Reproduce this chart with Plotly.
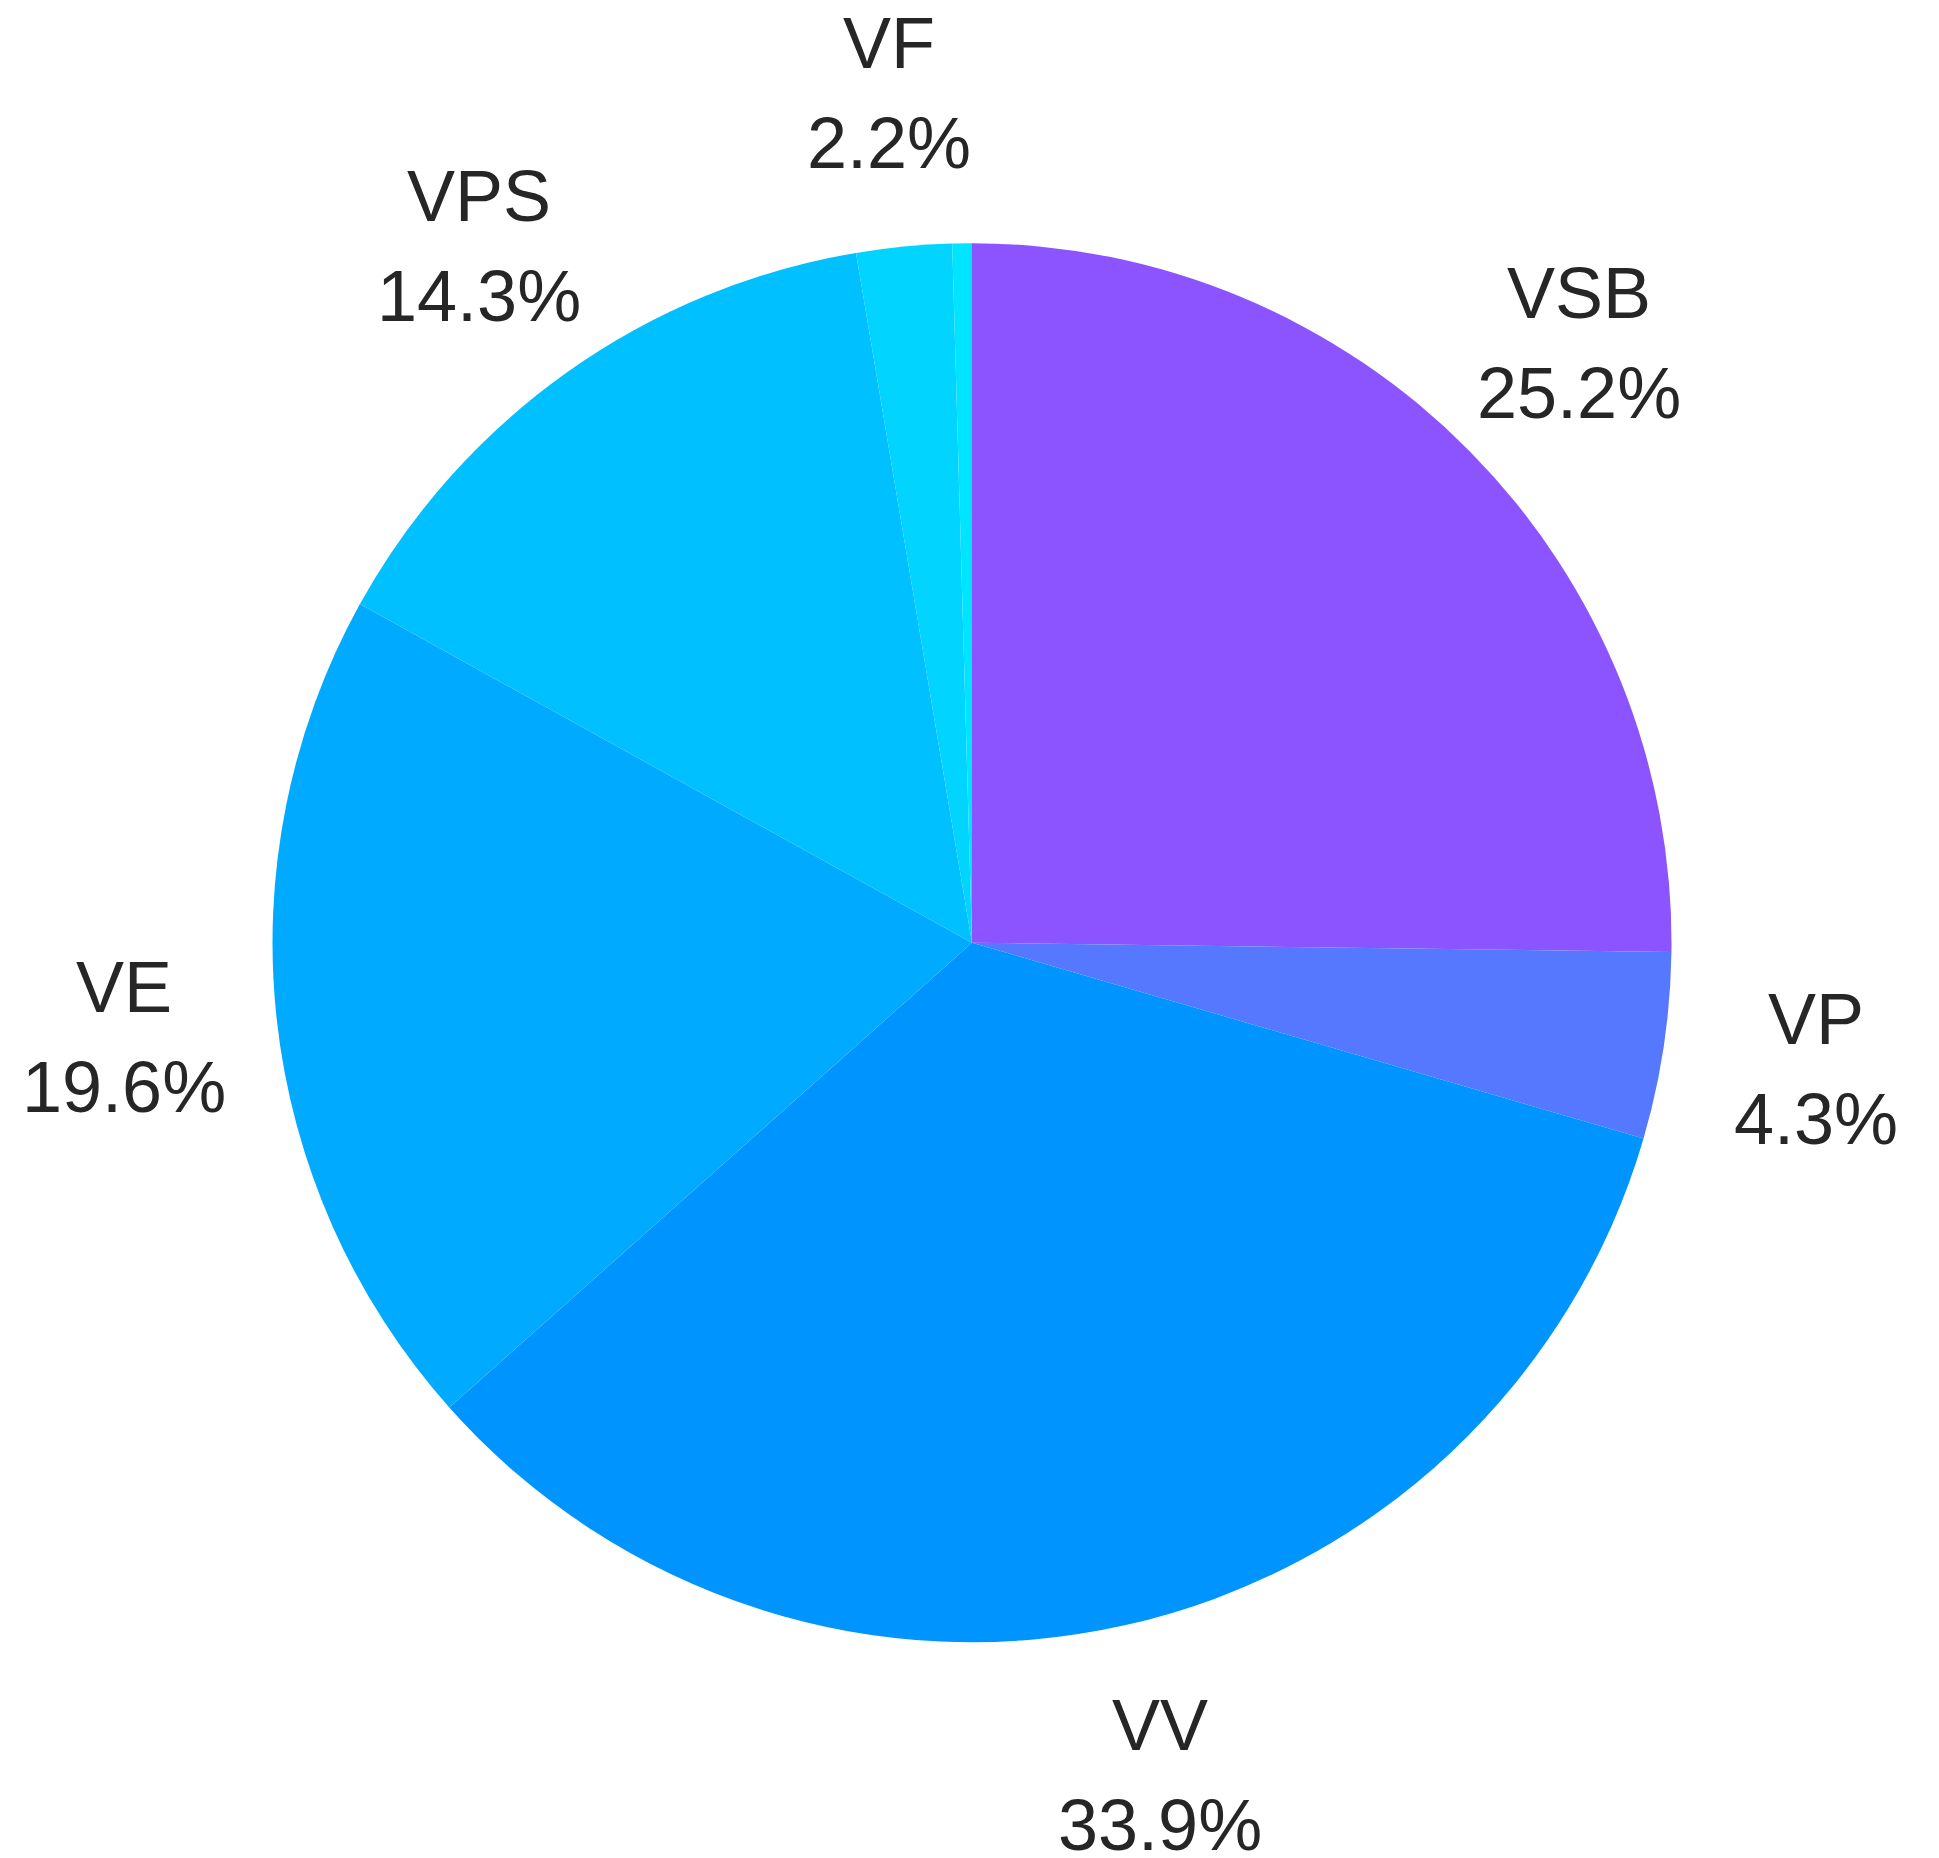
import math

import plotly.graph_objects as go

labels = ["VSB", "VP", "VV", "VE", "VPS", "VF", "VO"]
shares = [25.2, 4.3, 33.9, 19.6, 14.3, 2.2, 0.45]
colors = ["#8c54ff", "#5578ff", "#0094ff", "#00aaff", "#00c0ff", "#00d4ff", "#00e5ff"]

# figure fills the window inside the page's 8px body margin
W, H = 1931, 1850
CX, CY, R = 964, 934.7, 699.5  # pie centre / radius in figure pixels
LABEL_DIST = 1.22
LINE_GAP = 50
FONT = dict(family="Liberation Sans, Arial, sans-serif", size=72, color="#262626")

fig = go.Figure(
    go.Pie(
        labels=labels,
        values=shares,
        textinfo="none",
        sort=False,
        direction="clockwise",
        rotation=0,
        domain=dict(
            x=[(CX - R) / W, (CX + R) / W],
            y=[(H - CY - R) / H, (H - CY + R) / H],
        ),
        marker=dict(colors=colors, line=dict(width=0)),
        showlegend=False,
        hoverinfo="label+percent",
    )
)

# labels sit outside the pie, centred on each slice's mid angle
total = sum(shares)
cum = 0.0
for lab, val in zip(labels, shares):
    mid = 2 * math.pi * (cum + val / 2) / total
    cum += val
    if val < 1:  # the smallest slice carries no label
        continue
    x = (CX + LABEL_DIST * R * math.sin(mid)) / W
    y = (H - CY + LABEL_DIST * R * math.cos(mid)) / H
    for txt, shift in ((lab, LINE_GAP), (f"{val:.1f}%", -LINE_GAP)):
        fig.add_annotation(
            x=x, y=y, xref="paper", yref="paper",
            text=txt, showarrow=False,
            xanchor="center", yanchor="middle", yshift=shift,
            borderpad=0,
            font=FONT,
        )

fig.update_layout(
    width=W,
    height=H,
    margin=dict(l=0, r=0, t=0, b=0),
    paper_bgcolor="white",
    plot_bgcolor="white",
)
fig.write_html("out.html")
